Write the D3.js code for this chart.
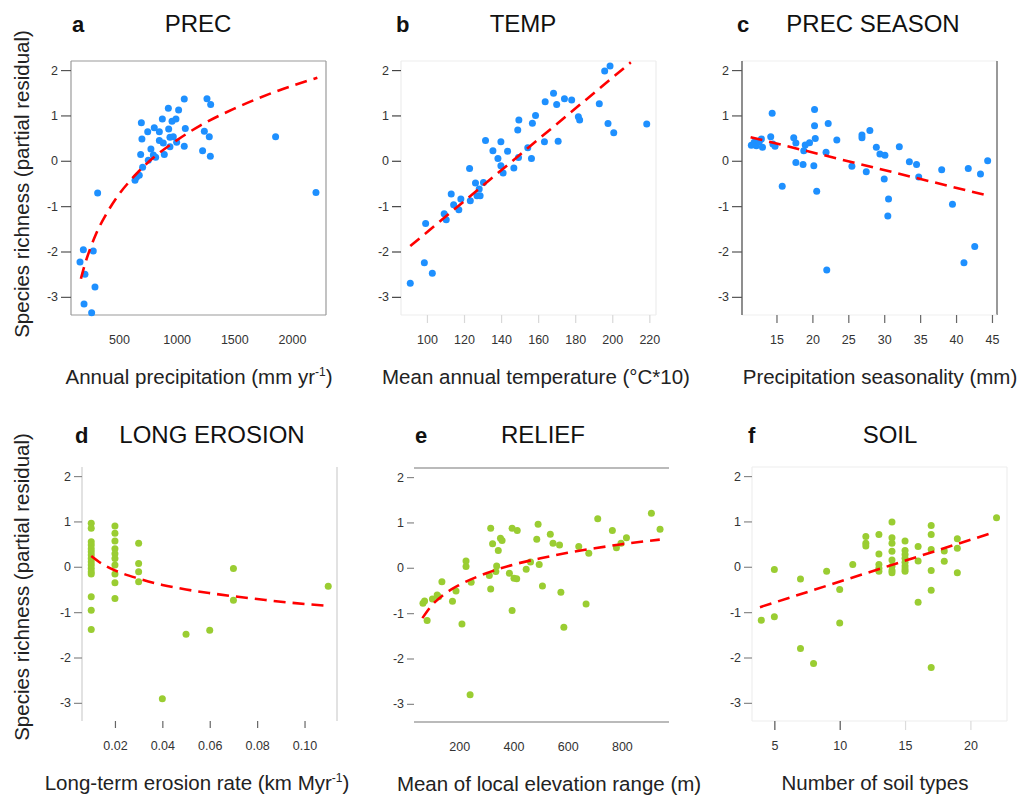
<!DOCTYPE html>
<html>
<head>
<meta charset="utf-8">
<script src="https://cdn.jsdelivr.net/npm/d3@7"></script>
<style>
  body { margin: 0; background: #fff; }
  svg { display: block; font-family: Arial, "Liberation Sans", sans-serif; }
</style>
</head>
<body>
<div id="chart"></div>
<script>
// ---- data ----
const yTicks = [-3, -2, -1, 0, 1, 2];

// a  PREC
const precX = [162, 191, 277, 205, 292, 197, 263, 315, 639, 653, 676, 694, 699, 688, 705, 749, 754, 777, 798, 806, 818, 850, 850, 876, 884, 893, 928, 931, 942, 942, 960, 971, 994, 1000, 1017, 1066, 1075, 1066, 1240, 1225, 1263, 1295, 1283, 1292, 1858, 2208];
const precY = [-2.23, -1.96, -1.99, -2.50, -2.78, -3.16, -3.35, -0.71, -0.43, -0.36, -0.32, 0.84, 0.48, 0.14, -0.14, 0.64, 0.01, 0.26, 0.13, 0.73, 0.08, 0.64, 0.45, 0.92, 0.39, 0.14, 1.16, 0.70, 0.52, 0.31, 0.87, 0.53, 0.92, 0.41, 1.12, 1.36, 0.71, 0.32, 0.65, 0.22, 1.37, 1.24, 0.53, 0.10, 0.53, -0.70];
const precFitX = [170, 200, 250, 300, 400, 500, 600, 700, 800, 1000, 1200, 1500, 1800, 2220];
const precFitY = [-2.60, -2.32, -1.94, -1.62, -1.13, -0.74, -0.43, -0.16, 0.07, 0.45, 0.77, 1.15, 1.47, 1.83];
const precTicks = [500, 1000, 1500, 2000];

// b  TEMP
const tempX = [91, 98.6, 102.9, 99.3, 109.3, 110.4, 113.1, 114.4, 117.2, 118.3, 123, 123.4, 126.2, 127, 128.2, 128.7, 130.5, 131.6, 135.6, 138.3, 139.9, 139.9, 141.1, 143.5, 146.9, 149, 149.6, 149.4, 154.4, 156.4, 156.9, 158.6, 163.8, 163.4, 168.3, 170, 170.8, 174.2, 178.1, 181.7, 182.4, 193, 195.9, 198.8, 197.7, 200.8, 218.6];
const tempY = [-2.70, -2.25, -2.48, -1.38, -1.17, -1.30, -0.73, -0.97, -1.08, -0.84, -0.17, -0.88, -0.49, -0.77, -0.62, -0.77, -0.48, 0.45, 0.22, 0.05, 0.42, -0.11, -0.27, 0.21, -0.16, 0.68, 0.90, 0.07, 0.29, 0.05, 0.83, 1.00, 1.30, 0.42, 1.49, 1.24, 0.43, 1.37, 1.34, 0.97, 0.90, 1.26, 1.98, 2.09, 0.82, 0.62, 0.81];
const tempFitX = [91, 210];
const tempFitY = [-1.88, 2.17];
const tempTicks = [100, 120, 140, 160, 180, 200, 220];

// c  PREC SEASON
const seasX = [11.5, 11.9, 12.2, 12.6, 12.9, 13.05, 14.2, 14.4, 14.5, 14.8, 15.8, 17.4, 17.7, 17.7, 18.8, 18.7, 19.0, 19.6, 20.3, 20.3, 20.4, 20.2, 20.6, 21.9, 22.0, 22.2, 23.4, 25.5, 26.9, 26.9, 27.5, 28.0, 28.9, 29.4, 30.1, 30.0, 30.6, 30.5, 32.1, 33.5, 34.5, 34.8, 38.0, 39.5, 41.1, 41.7, 42.6, 43.4, 44.4];
const seasY = [0.34, 0.41, 0.33, 0.42, 0.48, 0.30, 0.53, 1.05, 0.37, 0.32, -0.56, 0.51, 0.39, -0.04, 0.22, -0.08, 0.35, 0.40, 1.13, 0.77, 0.49, -0.11, -0.67, 0.19, -2.41, 0.82, 0.46, -0.12, 0.57, 0.51, -0.24, 0.67, 0.30, 0.15, 0.12, -0.40, -0.84, -1.22, 0.31, -0.02, -0.08, -0.36, -0.20, -0.96, -2.25, -0.17, -1.89, -0.29, 0.00];
const seasFitX = [11.4, 44.5];
const seasFitY = [0.52, -0.77];
const seasTicks = [15, 20, 25, 30, 35, 40, 45];

// d  LONG EROSION
const erosX = [0.01, 0.01, 0.01, 0.01, 0.01, 0.01, 0.01, 0.01, 0.01, 0.01, 0.01, 0.01, 0.01, 0.01, 0.01, 0.01,
  0.02, 0.02, 0.02, 0.02, 0.02, 0.02, 0.02, 0.02, 0.02, 0.02,
  0.03, 0.03, 0.03, 0.03, 0.04, 0.05, 0.06, 0.07, 0.07, 0.11];
const erosY = [0.96, 0.85, 0.55, 0.48, 0.40, 0.33, 0.26, 0.18, 0.11, 0.04, -0.04, -0.11, -0.16, -0.66, -0.96, -1.38,
  0.90, 0.74, 0.57, 0.40, 0.29, 0.18, 0.04, -0.16, -0.35, -0.70,
  0.52, 0.07, -0.11, -0.33, -2.91, -1.49, -1.40, -0.04, -0.74, -0.43];
const erosFitX = [0.01, 0.015, 0.02, 0.03, 0.04, 0.05, 0.06, 0.07, 0.08, 0.09, 0.10, 0.11];
const erosFitY = [0.24, 0.05, -0.08, -0.26, -0.40, -0.50, -0.58, -0.65, -0.71, -0.77, -0.82, -0.86];
const erosTicks = [0.02, 0.04, 0.06, 0.08, 0.10];

// e  RELIEF
const reliefX = [66, 72, 81.5, 101, 118.5, 124, 136, 175, 188, 210, 225, 225, 244, 240, 311, 316, 316, 323, 335, 338, 344, 352, 358, 385, 395, 395, 402, 414, 412, 447, 463, 486, 491, 495, 507, 536, 546, 570, 575, 586, 641, 668, 678, 711, 765, 780, 797, 817, 909, 941];
const reliefY = [-0.78, -0.73, -1.16, -0.69, -0.60, -0.64, -0.31, -0.74, -0.51, -1.24, 0.15, 0.03, -0.32, -2.80, -0.17, -0.47, 0.87, 0.53, -0.08, 0.04, 0.38, 0.65, 0.60, -0.12, -0.94, 0.87, -0.23, 0.82, -0.24, -0.03, 0.13, 0.63, 0.96, 0.07, -0.40, 0.74, 0.54, 0.50, -0.54, -1.31, 0.47, -0.80, 0.32, 1.08, 0.82, 0.44, 0.54, 0.66, 1.20, 0.85];
const reliefFitX = [64, 100, 150, 200, 300, 400, 500, 600, 700, 800, 940];
const reliefFitY = [-1.11, -0.82, -0.56, -0.38, -0.12, 0.07, 0.21, 0.33, 0.43, 0.52, 0.62];
const reliefTicks = [200, 400, 600, 800];

// f  SOIL
const soilX = [4, 5, 5, 7, 7, 8, 9, 10, 10, 11, 12, 12, 12, 13, 13, 13, 13, 13,
  14, 14, 14, 14, 14, 14, 14, 14, 15, 15, 15, 15, 15, 15, 15, 15,
  16, 16, 16, 17, 17, 17, 17, 17, 17, 18, 18, 19, 19, 19, 22];
const soilY = [-1.18, -0.06, -1.10, -0.27, -1.80, -2.13, -0.10, -0.50, -1.24, 0.05, 0.67, 0.52, 0.46, 0.71, 0.28, 0.05, -0.03, -0.10,
  0.99, 0.64, 0.52, 0.34, 0.15, 0.01, -0.08, -0.13, 0.57, 0.36, 0.27, 0.19, 0.10, 0.02, -0.05, -0.10,
  0.45, 0.13, -0.78, 0.91, 0.71, 0.38, -0.08, -0.52, -2.22, 0.35, 0.12, 0.62, 0.41, -0.13, 1.08];
const soilFitX = [3.9, 21.8];
const soilFitY = [-0.89, 0.76];
const soilTicks = [5, 10, 15, 20];

const blue = '#1e90ff';
const green = '#9acd32';

// ---- layout ----
const W = 1024, H = 798;
const svg = d3.select('#chart').append('svg')
  .attr('width', W).attr('height', H)
  .style('background', '#fff');

const panels = [
  { letter: 'a', title: 'PREC', xs: precX, ys: precY, fx: precFitX, fy: precFitY, color: blue,
    left: 71, top: 61, xDomain: [84, 2295], xTicks: precTicks, xTick: 0, xTickColor: '#fff',
    yTick: 10, yTickColor: '#555', frame: { top: '#9a9a9a', right: '#9a9a9a', bottom: '#9a9a9a', left: '#9a9a9a' },
    titleX: 198, letterX: 72, xLabel: ['Annual precipitation (mm yr', '-1', ')'], xLabelX: 199 },
  { letter: 'b', title: 'TEMP', xs: tempX, ys: tempY, fx: tempFitX, fy: tempFitY, color: blue,
    left: 401, top: 61, xDomain: [86, 223.6], xTicks: tempTicks, xTick: 8, xTickColor: '#d8d8d8',
    yTick: 9, yTickColor: '#444', frame: { top: '#ededed', right: '#ededed', bottom: '#ededed', left: '#ededed' },
    titleX: 523, letterX: 396, xLabel: ['Mean annual temperature (°C*10)'], xLabelX: 536 },
  { letter: 'c', title: 'PREC SEASON', xs: seasX, ys: seasY, fx: seasFitX, fy: seasFitY, color: blue,
    left: 742, top: 61, xDomain: [10.2, 45.7], xTicks: seasTicks, xTick: 8, xTickColor: '#666',
    yTick: 10, yTickColor: '#555', frame: { top: '#f0f0f0', right: '#555', bottom: '#f0f0f0', left: '#444' },
    titleX: 873, letterX: 737, xLabel: ['Precipitation seasonality (mm)'], xLabelX: 880 },
  { letter: 'd', title: 'LONG EROSION', xs: erosX, ys: erosY, fx: erosFitX, fy: erosFitY, color: green,
    left: 82, top: 467, xDomain: [0.0061, 0.1137], xTicks: erosTicks, xTick: 7, xTickColor: '#666',
    yTick: 8, yTickColor: '#888', frame: { right: '#cfcfcf', left: '#cfcfcf' }, fmt: d3.format('.2f'),
    titleX: 212, letterX: 75, xLabel: ['Long-term erosion rate (km Myr', '-1', ')'], xLabelX: 197 },
  { letter: 'e', title: 'RELIEF', xs: reliefX, ys: reliefY, fx: reliefFitX, fy: reliefFitY, color: green,
    left: 414, top: 468, xDomain: [33, 974], xTicks: reliefTicks, xTick: 0, xTickColor: '#fff',
    yTick: 7, yTickColor: '#888', frame: { top: '#777', bottom: '#777' },
    titleX: 543, letterX: 415, xLabel: ['Mean of local elevation range (m)'], xLabelX: 549 },
  { letter: 'f', title: 'SOIL', xs: soilX, ys: soilY, fx: soilFitX, fy: soilFitY, color: green,
    left: 752, top: 467, xDomain: [3.29, 22.8], xTicks: soilTicks, xTick: 9, xTickColor: d => d <= 10 ? '#555' : '#dcdcdc',
    yTick: 8, yTickColor: '#888', frame: { top: '#eeeeee', right: '#eeeeee', bottom: '#eeeeee', left: '#eeeeee' },
    titleX: 890, letterX: 748, xLabel: ['Number of soil types'], xLabelX: 875 }
];

function drawPanel(p) {
  const w = 255, h = 254;
  const x = d3.scaleLinear().domain(p.xDomain).range([p.left, p.left + w]);
  const y = d3.scaleLinear().domain([-3.4, 2.2]).range([p.top + h, p.top]);
  const [x0, x1] = x.range();
  const [y1, y0] = y.range();
  const g = svg.append('g');

  // frame sides
  const sides = {
    top: [x0, y0, x1, y0], right: [x1, y0, x1, y1],
    bottom: [x0, y1, x1, y1], left: [x0, y0, x0, y1]
  };
  Object.entries(p.frame).forEach(([side, col]) => {
    const s = sides[side];
    g.append('line')
      .attr('x1', s[0]).attr('y1', s[1]).attr('x2', s[2]).attr('y2', s[3])
      .attr('stroke', col).attr('stroke-width', 1.2);
  });

  // y axis
  const ya = g.append('g')
    .attr('transform', `translate(${x0},0)`)
    .call(d3.axisLeft(y).tickValues(yTicks).tickSize(p.yTick).tickPadding(3).tickFormat(d => String(d)));
  ya.select('.domain').remove();
  ya.selectAll('.tick line').attr('stroke', p.yTickColor).attr('stroke-width', 1.2);
  ya.attr('font-size', 12.5).attr('font-family', 'Arial, "Liberation Sans", sans-serif');
  ya.selectAll('.tick text').attr('fill', '#333');

  // x axis
  const xa = g.append('g')
    .attr('transform', `translate(0,${y1})`)
    .call(d3.axisBottom(x).tickValues(p.xTicks).tickSize(p.xTick)
      .tickPadding(20 - p.xTick).tickFormat(p.fmt || (d => String(d))));
  xa.select('.domain').remove();
  xa.selectAll('.tick line').attr('stroke', p.xTickColor).attr('stroke-width', 1.2);
  xa.attr('font-size', 12.5).attr('font-family', 'Arial, "Liberation Sans", sans-serif');
  xa.selectAll('.tick text').attr('fill', '#333');

  // points
  g.append('g').selectAll('circle')
    .data(d3.zip(p.xs, p.ys))
    .join('circle')
    .attr('cx', d => x(d[0]))
    .attr('cy', d => y(d[1]))
    .attr('r', 3.5)
    .attr('fill', p.color);

  // fitted curve
  const line = d3.line()
    .x(d => x(d[0]))
    .y(d => y(d[1]))
    .curve(d3.curveMonotoneX);
  g.append('path')
    .datum(d3.zip(p.fx, p.fy))
    .attr('d', line)
    .attr('fill', 'none')
    .attr('stroke', '#ff0000')
    .attr('stroke-width', 2.6)
    .attr('stroke-dasharray', '12,7');

  // panel letter + title
  const base = p.top < 200 ? 32 : 443;
  g.append('text')
    .attr('x', p.letterX).attr('y', base)
    .attr('font-size', 22).attr('font-weight', 'bold').attr('fill', '#111')
    .text(p.letter);
  g.append('text')
    .attr('x', p.titleX).attr('y', base)
    .attr('text-anchor', 'middle')
    .attr('font-size', 24).attr('fill', '#111')
    .text(p.title);

  // x axis title
  const t = g.append('text')
    .attr('x', p.xLabelX).attr('y', y1 + 69)
    .attr('text-anchor', 'middle')
    .attr('font-size', 20.5).attr('fill', '#222');
  t.append('tspan').text(p.xLabel[0]);
  if (p.xLabel.length > 1) {
    t.append('tspan').attr('dy', -8).attr('font-size', 12).text(p.xLabel[1]);
    t.append('tspan').attr('dy', 8).text(p.xLabel[2]);
  }
}

panels.forEach(drawPanel);

// shared y titles
[184, 587].forEach(cy => {
  svg.append('text')
    .attr('transform', `translate(29,${cy}) rotate(-90)`)
    .attr('text-anchor', 'middle')
    .attr('font-size', 20.5).attr('fill', '#222')
    .text('Species richness (partial residual)');
});
</script>
</body>
</html>
